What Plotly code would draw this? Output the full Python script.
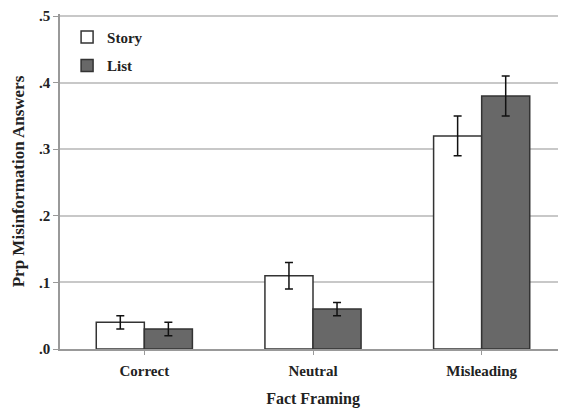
import plotly.graph_objects as go

categories = ["Correct", "Neutral", "Misleading"]
story = [0.04, 0.11, 0.32]
story_err = [0.01, 0.02, 0.03]
list_vals = [0.03, 0.06, 0.38]
list_err = [0.01, 0.01, 0.03]
ytick_vals = [0, 0.1, 0.2, 0.3, 0.4, 0.5]
ytick_text = [".0", ".1", ".2", ".3", ".4", ".5"]

FONT = "Liberation Serif"
TXT = "#222222"

fig = go.Figure()
fig.add_trace(go.Bar(
    x=categories, y=story, name="<b>Story</b>", legendgroup="a",
    marker=dict(color="white", line=dict(color="#333333", width=1.5)),
    error_y=dict(type="data", array=story_err, color="#111111", thickness=1.5, width=4),
))
fig.add_trace(go.Bar(
    x=categories, y=list_vals, name="<b>List</b>", legendgroup="b",
    marker=dict(color="#686868", line=dict(color="#333333", width=1.5)),
    error_y=dict(type="data", array=list_err, color="#111111", thickness=1.5, width=4),
))

# page has an 8px body margin; figure sized/offset to compensate
fig.update_layout(
    width=558, height=400,
    margin=dict(l=52, r=0, t=6, b=59),
    paper_bgcolor="white", plot_bgcolor="white",
    barmode="group", bargap=0.43, bargroupgap=0,
    font=dict(family=FONT, size=14, color=TXT),
    showlegend=True,
    legend=dict(x=0.014, y=0.98, xanchor="left", yanchor="top",
                bgcolor="rgba(0,0,0,0)", traceorder="grouped", tracegroupgap=6,
                font=dict(family=FONT, size=15, color=TXT),
                itemwidth=30),
    xaxis=dict(
        showline=True, linecolor="#999999", linewidth=1.5,
        ticks="outside", ticklen=4, tickcolor="#999999",
        tickvals=categories, ticktext=["<b>%s</b>" % c for c in categories],
        tickfont=dict(family=FONT, size=15, color=TXT),
        ticklabelstandoff=3,
        title=dict(text="<b>Fact Framing</b>", font=dict(family=FONT, size=16, color=TXT), standoff=19),
        showgrid=False,
    ),
    yaxis=dict(
        range=[0, 0.503], tickvals=ytick_vals, ticktext=["<b>%s</b>" % t for t in ytick_text],
        showline=True, linecolor="#999999", linewidth=1.5,
        ticks="outside", ticklen=5, tickcolor="#999999",
        showgrid=True, gridcolor="#c8c8c8", gridwidth=1.5,
        zeroline=False, ticklabeloverflow="allow",
        tickfont=dict(family=FONT, size=15, color=TXT),
        title=dict(text="<b>Prp Misinformation Answers</b>", font=dict(family=FONT, size=17, color=TXT), standoff=10),
    ),
)

fig.write_html("out.html")
